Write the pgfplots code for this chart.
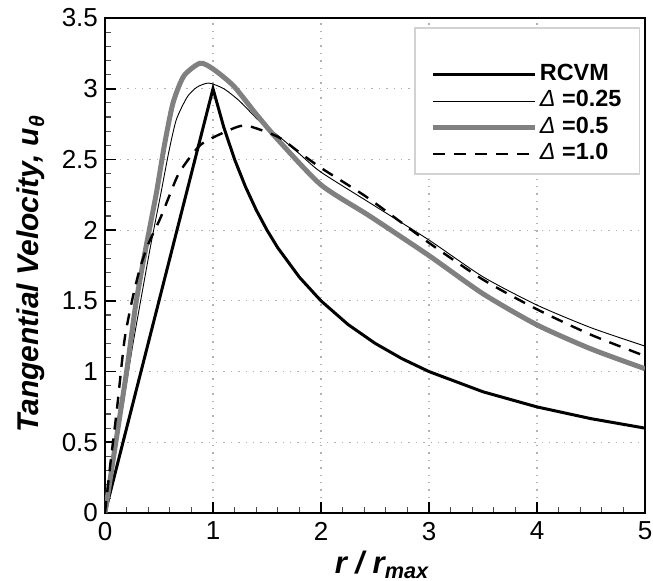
\documentclass[border=0pt]{standalone}
\usepackage{pgfplots}
\pgfplotsset{compat=1.18}
\usepackage{fontspec}
\setmainfont{Liberation Sans}
\usetikzlibrary{calc}
\definecolor{midgray}{RGB}{128,128,128}
\begin{document}
\begin{tikzpicture}
\begin{axis}[
  name=ax,
  scale only axis,
  width=270pt, height=247.5pt,
  xmin=0, xmax=5, ymin=0, ymax=3.5,
  xtick={0,1,2,3,4,5},
  ytick={0,0.5,1,1.5,2,2.5,3,3.5},
  minor x tick num=4, minor y tick num=4,
  xtick pos=left, ytick pos=left,
  tick align=inside,
  major tick length=5.5pt, minor tick length=3pt,
  every tick/.style={black, line width=0.9pt},
  every minor tick/.append style={line width=0.6pt, black!70},
  axis line style={line width=1.3pt},
  grid=major,
  major grid style={gray!60, line width=0.6pt, dash pattern=on 0.7pt off 3pt},
  /pgf/number format/assume math mode=true,
  tick label style={font=\fontsize{13}{13}\selectfont},
  xticklabel style={yshift=-1pt},
  xlabel={\textbf{\textit{r / r\textsubscript{max}}}},
  ylabel={\textbf{\textit{Tangential Velocity, u\textsubscript{θ}}}},
  every axis x label/.style={at={(axis description cs:0.513,-0.105)}, anchor=center, font=\fontsize{15.5}{16}\selectfont},
  every axis y label/.style={at={(axis description cs:-0.137,0.483)}, anchor=center, rotate=90, font=\fontsize{15}{16}\selectfont},
  legend cell align=left,
  legend style={at={(0.991,0.982)}, anchor=north east, draw=gray!35, line width=0.8pt,
    fill=white, font=\fontsize{11.7}{13}\selectfont\bfseries,
    inner xsep=8pt, inner ysep=3.5pt, row sep=0pt,
    nodes={inner sep=1pt, text height=8.5pt, text depth=2.75pt}},
  legend image code/.code={\draw[#1] (0pt,0pt) -- (51pt,0pt);},
]
\addlegendimage{empty legend}
\addlegendentry{}
\addplot[black, line width=1.5pt] coordinates {
(0,0) (1,3) (1.1,2.727) (1.2,2.5) (1.3,2.308) (1.4,2.143) (1.5,2) (1.6,1.875)
(1.8,1.667) (2,1.5) (2.25,1.333) (2.5,1.2) (2.75,1.091) (3,1) (3.5,0.857)
(4,0.75) (4.5,0.667) (5,0.6)};
\addlegendentry{RCVM}
\addplot[black, line width=0.45pt, smooth, tension=0.4] coordinates {
(0,0) (0.1,0.45) (0.2,0.92) (0.26,1.2) (0.33,1.5) (0.42,1.88) (0.52,2.27)
(0.59,2.55) (0.66,2.78) (0.76,2.94) (0.85,3.01) (0.96,3.04) (1.1,3.0)
(1.25,2.91) (1.43,2.77) (1.6,2.67) (1.8,2.54) (2.0,2.41) (2.5,2.17)
(3,1.93) (3.5,1.67) (4,1.47) (4.5,1.31) (5,1.18)};
\addlegendentry{\mdseries\itshape Δ \upshape\bfseries=0.25}
\addplot[midgray, line width=2.5pt, smooth, tension=0.4] coordinates {
(0,0) (0.1,0.5) (0.2,1.0) (0.28,1.45) (0.35,1.76) (0.42,2.04) (0.48,2.28)
(0.55,2.6) (0.63,2.9) (0.73,3.09) (0.88,3.18) (1.0,3.14) (1.19,3.02)
(1.4,2.82) (1.6,2.64) (2.0,2.32) (2.45,2.1) (3,1.82) (3.5,1.55)
(4,1.33) (4.5,1.16) (5,1.02)};
\addlegendentry{\mdseries\itshape Δ \upshape\bfseries=0.5}
\addplot[black, line width=1.2pt, dash pattern=on 6pt off 4.5pt, smooth, tension=0.4] coordinates {
(0,0) (0.05,0.35) (0.11,0.73) (0.18,1.22) (0.25,1.5) (0.32,1.72)
(0.4,1.9) (0.51,2.08) (0.6,2.25) (0.69,2.41) (0.88,2.6) (1.1,2.69)
(1.3,2.74) (1.6,2.66) (1.8,2.55) (2.0,2.44) (2.43,2.23) (3,1.91)
(3.5,1.65) (4,1.44) (4.5,1.26) (5,1.11)};
\addlegendentry{\mdseries\itshape Δ \upshape\bfseries=1.0}
\end{axis}
\pgfresetboundingbox
\path ($(ax.south west)+(-52.5pt,-34pt)$) rectangle ($(ax.north east)+(4pt,9pt)$);
\end{tikzpicture}
\end{document}
